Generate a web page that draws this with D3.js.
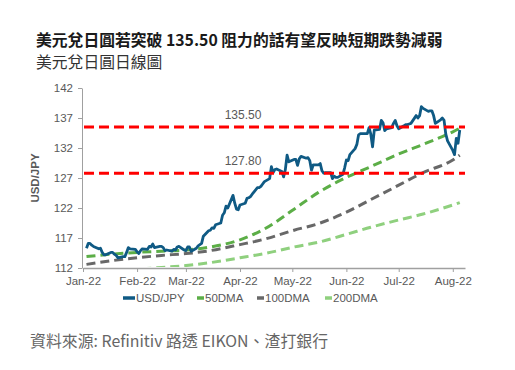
<!DOCTYPE html>
<html>
<head>
<meta charset="utf-8">
<script src="https://cdn.jsdelivr.net/npm/d3@7"></script>
<style>
    body { margin: 0; background: #fff; }
    .cjk { font-family: "Noto Sans CJK TC", "Noto Sans CJK SC", sans-serif; }
    .axis text { font-family: "Liberation Sans", Arial, sans-serif; font-size: 11.5px; fill: #595959; }
    .axis path, .axis line { stroke: #a0a0a0; }
    .axis--x path { stroke-width: 1.6; }
</style>
</head>
<body>
<div id="chart"></div>
<script>
// USD/JPY daily close
const usdjpy = [
    ['2022-01-03', 115.3], ['2022-01-04', 116.1], ['2022-01-05', 116.1], ['2022-01-06', 115.8], ['2022-01-07', 115.6],
    ['2022-01-10', 115.2], ['2022-01-11', 115.3], ['2022-01-12', 114.6], ['2022-01-13', 114.2], ['2022-01-14', 114.2],
    ['2022-01-17', 114.6], ['2022-01-18', 114.6], ['2022-01-19', 114.3], ['2022-01-20', 114.1], ['2022-01-21', 113.7],
    ['2022-01-24', 113.9], ['2022-01-25', 113.9], ['2022-01-26', 114.6], ['2022-01-27', 115.4], ['2022-01-28', 115.2],
    ['2022-01-31', 115.1], ['2022-02-01', 114.7], ['2022-02-02', 114.4], ['2022-02-03', 114.9], ['2022-02-04', 115.2],
    ['2022-02-07', 115.1], ['2022-02-08', 115.6], ['2022-02-09', 115.5], ['2022-02-10', 116.0], ['2022-02-11', 115.4],
    ['2022-02-14', 115.6], ['2022-02-15', 115.6], ['2022-02-16', 115.4], ['2022-02-17', 114.9], ['2022-02-18', 115.0],
    ['2022-02-21', 114.8], ['2022-02-22', 115.1], ['2022-02-23', 115.0], ['2022-02-24', 115.5], ['2022-02-25', 115.6],
    ['2022-02-28', 115.0], ['2022-03-01', 114.9], ['2022-03-02', 115.5], ['2022-03-03', 115.5], ['2022-03-04', 114.8],
    ['2022-03-07', 115.3], ['2022-03-08', 115.7], ['2022-03-09', 115.9], ['2022-03-10', 116.1], ['2022-03-11', 117.3],
    ['2022-03-14', 118.2], ['2022-03-15', 118.3], ['2022-03-16', 118.7], ['2022-03-17', 118.6], ['2022-03-18', 119.2],
    ['2022-03-21', 119.5], ['2022-03-22', 120.8], ['2022-03-23', 121.2], ['2022-03-24', 122.3], ['2022-03-25', 122.0],
    ['2022-03-28', 124.1], ['2022-03-29', 122.8], ['2022-03-30', 121.8], ['2022-03-31', 121.7], ['2022-04-01', 122.5],
    ['2022-04-04', 122.8], ['2022-04-05', 123.6], ['2022-04-06', 123.7], ['2022-04-07', 123.9], ['2022-04-08', 124.3],
    ['2022-04-11', 125.4], ['2022-04-12', 125.4], ['2022-04-13', 125.6], ['2022-04-14', 126.0], ['2022-04-15', 126.4],
    ['2022-04-18', 126.9], ['2022-04-19', 128.9], ['2022-04-20', 127.9], ['2022-04-21', 128.4], ['2022-04-22', 128.5],
    ['2022-04-25', 128.1], ['2022-04-26', 127.2], ['2022-04-27', 128.4], ['2022-04-28', 130.8], ['2022-04-29', 129.7],
    ['2022-05-02', 130.1], ['2022-05-03', 130.1], ['2022-05-04', 129.1], ['2022-05-05', 130.2], ['2022-05-06', 130.6],
    ['2022-05-09', 130.3], ['2022-05-10', 130.4], ['2022-05-11', 129.9], ['2022-05-12', 128.3], ['2022-05-13', 129.2],
    ['2022-05-16', 129.2], ['2022-05-17', 129.4], ['2022-05-18', 128.2], ['2022-05-19', 127.8], ['2022-05-20', 127.9],
    ['2022-05-23', 127.9], ['2022-05-24', 126.9], ['2022-05-25', 127.3], ['2022-05-26', 127.1], ['2022-05-27', 127.1],
    ['2022-05-30', 127.6], ['2022-05-31', 128.7], ['2022-06-01', 130.0], ['2022-06-02', 129.9], ['2022-06-03', 130.9],
    ['2022-06-06', 131.9], ['2022-06-07', 132.6], ['2022-06-08', 134.2], ['2022-06-09', 134.4], ['2022-06-10', 134.4],
    ['2022-06-13', 134.4], ['2022-06-14', 135.4], ['2022-06-15', 134.3], ['2022-06-16', 132.2], ['2022-06-17', 135.0],
    ['2022-06-20', 135.1], ['2022-06-21', 136.6], ['2022-06-22', 136.2], ['2022-06-23', 134.9], ['2022-06-24', 135.2],
    ['2022-06-27', 135.4], ['2022-06-28', 136.1], ['2022-06-29', 136.6], ['2022-06-30', 135.7], ['2022-07-01', 135.2],
    ['2022-07-04', 135.7], ['2022-07-05', 135.9], ['2022-07-06', 135.9], ['2022-07-07', 136.0], ['2022-07-08', 136.1],
    ['2022-07-11', 137.4], ['2022-07-12', 137.0], ['2022-07-13', 137.4], ['2022-07-14', 138.9], ['2022-07-15', 138.6],
    ['2022-07-18', 138.1], ['2022-07-19', 138.2], ['2022-07-20', 138.2], ['2022-07-21', 137.4], ['2022-07-22', 136.1],
    ['2022-07-25', 136.7], ['2022-07-26', 137.0], ['2022-07-27', 136.6], ['2022-07-28', 134.3], ['2022-07-29', 133.2],
    ['2022-08-01', 131.6], ['2022-08-02', 130.9], ['2022-08-03', 133.6], ['2022-08-04', 132.8], ['2022-08-05', 135.0]
];

const maDates = ['2022-01-03', '2022-01-17', '2022-02-01', '2022-02-15', '2022-03-01', '2022-03-15',
    '2022-04-01', '2022-04-15', '2022-05-02', '2022-05-16', '2022-06-01', '2022-06-15',
    '2022-07-01', '2022-07-15', '2022-08-01', '2022-08-05'];
const dma50  = [113.9, 114.3, 114.6, 114.8, 115.0, 115.5, 116.7, 118.5, 121.8, 124.6, 127.1, 128.9, 131.0, 132.6, 134.7, 135.3];
const dma100 = [112.6, 113.2, 113.7, 114.1, 114.4, 114.9, 115.9, 116.8, 118.3, 119.4, 121.3, 123.4, 125.8, 127.9, 130.0, 130.8];
const dma200 = [111.2, 111.5, 111.8, 112.1, 112.4, 112.9, 113.7, 114.4, 115.5, 116.3, 117.6, 118.8, 120.0, 121.0, 122.5, 122.9];

// Resistance / support levels
const levels = [135.5, 127.8];
const levelLabels = ['135.50', '127.80'];

const yTicks = [112, 117, 122, 127, 132, 137, 142];
const xDomain = ['2022-01-01', '2022-08-08'];

const seriesNames = ['USD/JPY', '50DMA', '100DMA', '200DMA'];
const seriesColors = ['#0f5a84', '#5cae47', '#686868', '#8fd07e'];

// Plot box
let plot = {left: 82, right: 465, top: 88, bottom: 268};

const parse = d3.timeParse('%Y-%m-%d');

const svg = d3.select('#chart')
    .append('svg')
    .attr('width', 515)
    .attr('height', 370)
    .style('background', '#fff')
;

// TITLE
svg.append('text')
    .attr('class', 'cjk')
    .attr('x', 36)
    .attr('y', 46)
    .style('font-size', '15.8px')
    .style('font-weight', 700)
    .style('fill', '#1a1a1a')
    .text('美元兌日圓若突破 135.50 阻力的話有望反映短期跌勢減弱');

svg.append('text')
    .attr('class', 'cjk')
    .attr('x', 36)
    .attr('y', 68)
    .style('font-size', '15.8px')
    .style('fill', '#333')
    .text('美元兌日圓日線圖');

// SCALES
let x = d3.scaleTime()
    .domain(xDomain.map(parse))
    .range([plot.left + 1, plot.right])
;
let y = d3.scaleLinear()
    .domain([112, 142])
    .range([plot.bottom, plot.top])
;

// AXES
let xAxis = d3.axisBottom(x)
    .ticks(d3.timeMonth.every(1))
    .tickFormat(d3.timeFormat('%b-%y'))
    .tickSize(4)
    .tickSizeOuter(0)
    .tickPadding(5);

let yAxis = d3.axisLeft(y)
    .tickValues(yTicks)
    .tickSize(4)
    .tickSizeOuter(0)
    .tickPadding(5);

svg.append('g')
    .attr('class', 'axis axis--x')
    .attr('transform', 'translate(0,' + plot.bottom + ')')
    .call(xAxis);

svg.append('g')
    .attr('class', 'axis axis--y')
    .attr('transform', 'translate(' + plot.left + ',0)')
    .call(yAxis);

// Y axis title
svg.append('text')
    .attr('transform', 'translate(39,178) rotate(-90)')
    .attr('text-anchor', 'middle')
    .style('font-family', '"Liberation Sans", Arial, sans-serif')
    .style('font-size', '11.5px')
    .style('font-weight', 700)
    .style('fill', '#595959')
    .text('USD/JPY');

// clip for the MA lines that start below the axis
svg.append('clipPath')
    .attr('id', 'plotclip')
    .append('rect')
    .attr('x', plot.left + 1)
    .attr('y', plot.top - 10)
    .attr('width', plot.right - plot.left)
    .attr('height', plot.bottom - plot.top + 9);

let lines = svg.append('g').attr('clip-path', 'url(#plotclip)');

let maLine = d3.line()
    .x(function(d, i) { return x(parse(maDates[i])); })
    .y(function(d) { return y(d); })
    .curve(d3.curveMonotoneX)
;

// MOVING AVERAGES
[dma200, dma100, dma50].forEach(function(s) {
    let idx = s === dma50 ? 1 : (s === dma100 ? 2 : 3);
    lines.append('path')
        .datum(s)
        .attr('fill', 'none')
        .attr('stroke', seriesColors[idx])
        .attr('stroke-width', 3)
        .attr('stroke-dasharray', '9,5')
        .attr('d', maLine);
});

// LEVELS
levels.forEach(function(v, i) {
    svg.append('line')
        .attr('x1', plot.left + 2)
        .attr('x2', plot.right)
        .attr('y1', y(v))
        .attr('y2', y(v))
        .attr('stroke', '#ff0000')
        .attr('stroke-width', 3)
        .attr('stroke-dasharray', '10,5');
    svg.append('text')
        .attr('x', 243)
        .attr('y', y(v) - 8)
        .attr('text-anchor', 'middle')
        .style('font-family', '"Liberation Sans", Arial, sans-serif')
        .style('font-size', '12px')
        .style('fill', '#595959')
        .text(levelLabels[i]);
});

// USD/JPY LINE
let priceLine = d3.line()
    .x(function(d) { return x(parse(d[0])); })
    .y(function(d) { return y(d[1]); })
;

lines.append('path')
    .datum(usdjpy)
    .attr('fill', 'none')
    .attr('stroke', seriesColors[0])
    .attr('stroke-width', 2.8)
    .attr('stroke-linejoin', 'round')
    .attr('d', priceLine);

// LEGEND
let legendX = [123, 197, 257, 325];
let legend = svg.append('g')
    .attr('transform', 'translate(0,298)');

seriesNames.forEach(function(name, i) {
    let w = i === 0 ? 12 : 7;
    legend.append('line')
        .attr('x1', legendX[i])
        .attr('x2', legendX[i] + w)
        .attr('stroke', seriesColors[i])
        .attr('stroke-width', 3.5);
    legend.append('text')
        .attr('x', legendX[i] + w + 1)
        .attr('y', 4)
        .style('font-family', '"Liberation Sans", Arial, sans-serif')
        .style('font-size', '11.5px')
        .style('fill', '#595959')
        .text(name);
});

// SOURCE
svg.append('text')
    .attr('class', 'cjk')
    .attr('x', 30)
    .attr('y', 347)
    .style('font-size', '15.9px')
    .style('fill', '#666')
    .text('資料來源: Refinitiv 路透 EIKON、渣打銀行');
</script>
</body>
</html>
